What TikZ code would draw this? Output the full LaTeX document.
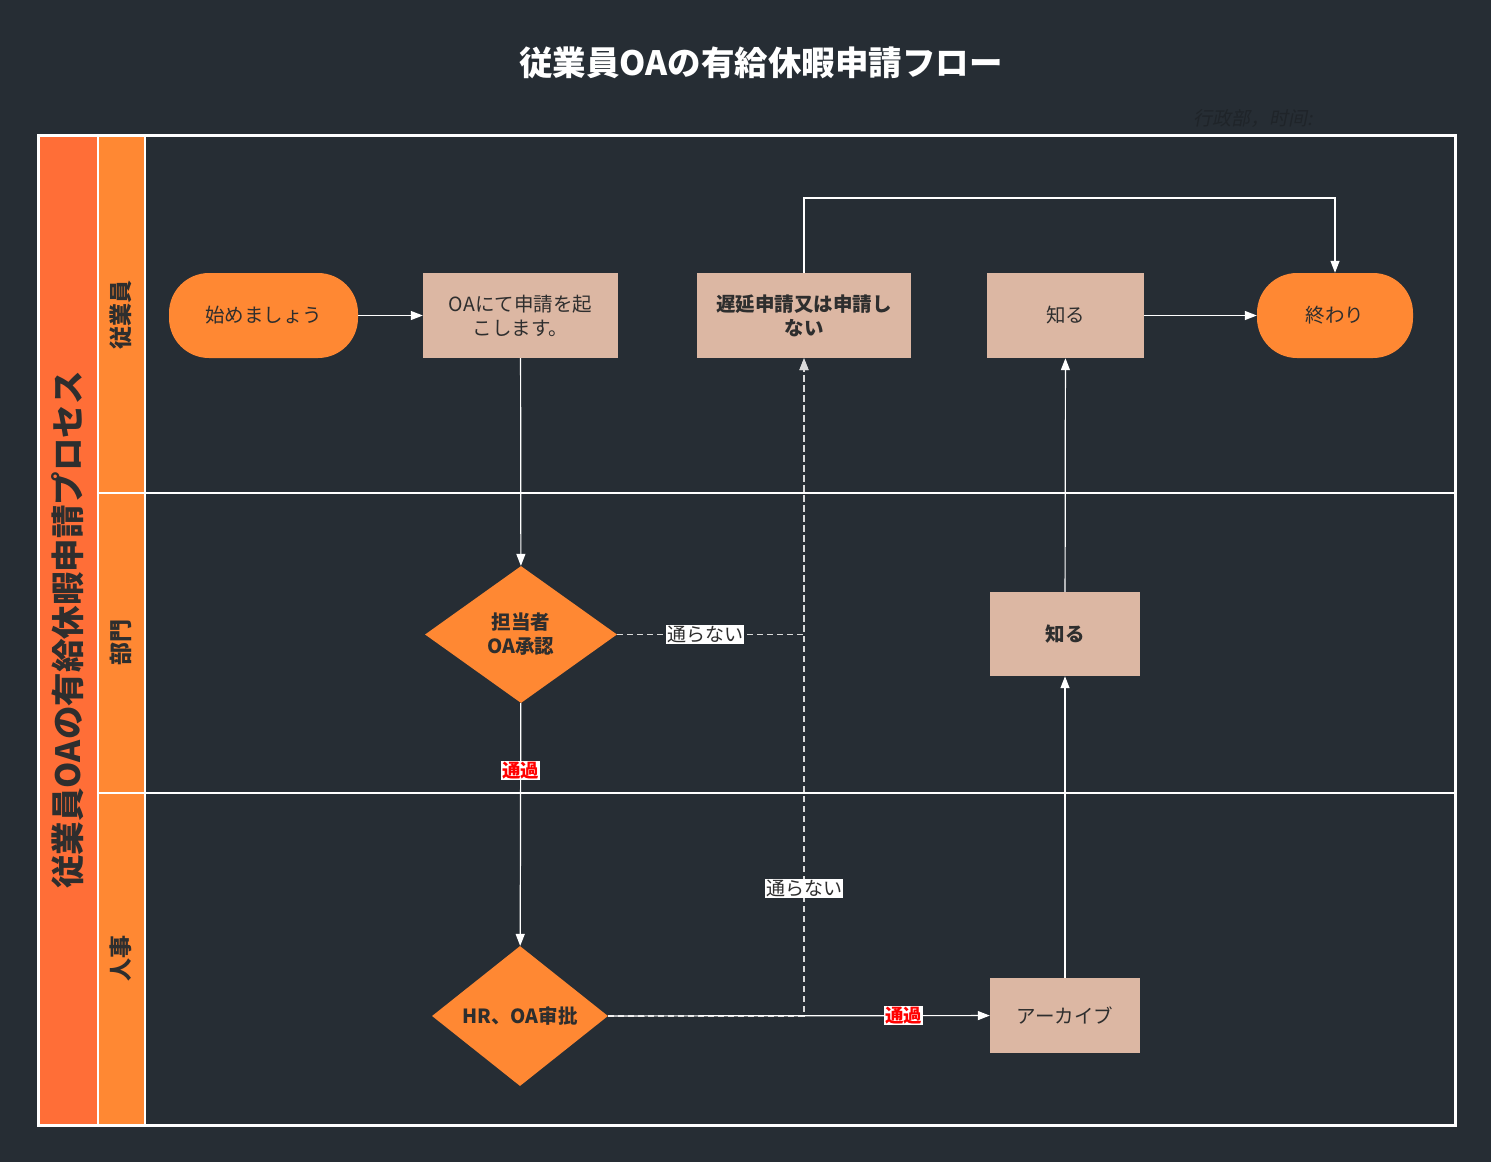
\documentclass[tikz,border=0pt]{standalone}
\usepackage{fontspec}
\setmainfont{Noto Sans CJK JP}
\newfontfamily\scfont[FakeSlant=0.2]{Noto Sans CJK SC}
\usetikzlibrary{shapes.geometric,arrows.meta}
\definecolor{bg}{HTML}{262D34}
\definecolor{orA}{HTML}{FF8833}
\definecolor{orB}{HTML}{FF6E37}
\definecolor{boxc}{HTML}{DCB7A3}
\definecolor{txt}{HTML}{2E2E2E}
\definecolor{faint}{HTML}{1F2429}
\tikzset{
  pill/.style={draw=none,fill=orA,rounded corners=40pt,minimum height=85pt,text=txt,font=\fontsize{19.5}{24}\selectfont,align=center},
  procbox/.style={draw=none,fill=boxc,text=txt,font=\fontsize{19.5}{24}\selectfont,align=center,inner sep=4pt},
  decis/.style={diamond,draw=none,fill=orA,text=txt,font=\bfseries\fontsize{19.5}{24}\selectfont,align=center,inner sep=0pt},
  arr/.style={draw=white,line width=1.2pt,-{Triangle[length=12pt,width=9pt]}},
  dline/.style={draw=white!85!black,line width=1.5pt,dash pattern=on 6pt off 4pt,-{Triangle[length=12pt,width=9pt]}},
  lblw/.style={fill=white,text=txt,font=\fontsize{19}{22}\selectfont,inner sep=1pt},
  lblr/.style={fill=white,text=red,font=\bfseries\fontsize{18.5}{22}\selectfont,inner sep=1pt},
  lanelbl/.style={rotate=90,text=txt,font=\bfseries\fontsize{23}{26}\selectfont},
}
\begin{document}
\begin{tikzpicture}[x=1pt,y=-1pt]
\fill[bg] (0,0) rectangle (1491,1162);
\useasboundingbox (0,0) rectangle (1491,1162);
% title
\node[text=white,font=\bfseries\fontsize{33.5}{38}\selectfont] (title) at (761,63) {従業員OAの有給休暇申請フロー};
\node[text=faint,font=\scfont\fontsize{19}{22}\selectfont,anchor=west] (note) at (1190,118) {行政部，时间:};
% pool frame
\fill[orB] (38,135) rectangle (97,1125);
\fill[orA] (99,135) rectangle (145,1125);
\draw[white,line width=3pt] (38,135) rectangle (1455,1125);
\draw[white,line width=2pt] (98,135) -- (98,1125);
\draw[white,line width=1.2pt] (145,135) -- (145,1125);
\draw[white,line width=1.2pt] (99,493) -- (1455,493);
\draw[white,line width=1.2pt] (99,793) -- (1455,793);
\node[rotate=90,text=txt,font=\bfseries\fontsize{33.5}{38}\selectfont] (pool) at (68,630) {従業員OAの有給休暇申請プロセス};
\node[lanelbl] (lane1) at (121,315) {従業員};
\node[lanelbl] (lane2) at (121,642) {部門};
\node[lanelbl] (lane3) at (121,958) {人事};
% nodes
\node[pill,minimum width=189pt] (start) at (263.5,315.5) {始めましょう};
\node[procbox,minimum width=195pt,minimum height=85pt] (apply) at (520.5,315.5) {OAにて申請を起\\こします。};
\node[procbox,minimum width=214pt,minimum height=85pt,font=\bfseries\fontsize{19.5}{24}\selectfont] (delay) at (804,315.5) {遅延申請又は申請し\\ない};
\node[procbox,minimum width=157pt,minimum height=85pt] (know1) at (1065.5,315.5) {知る};
\node[pill,minimum width=156pt] (end) at (1335,315.5) {終わり};
\node[decis,minimum width=192pt,minimum height=137pt] (dept) at (521,634.5) {担当者\\OA承認};
\node[procbox,minimum width=150pt,minimum height=84pt,font=\bfseries\fontsize{19.5}{24}\selectfont] (know2) at (1065,634) {知る};
\node[decis,minimum width=176pt,minimum height=140pt] (hr) at (520,1016) {HR、OA审批};
\node[procbox,minimum width=150pt,minimum height=75pt] (arch) at (1065,1015.5) {アーカイブ};
\coordinate (topy) at (0,198);
% edges
\draw[arr] (start) -- (apply);
\draw[arr] (apply) -- (dept);
\draw[arr] (dept) -- node[lblr,pos=0.276] {通過} (hr);
\draw[dline] (dept.east) -| node[lblw,pos=0.235] {通らない} (delay.south);
\draw[dline] (hr.east) -| node[lblw,pos=0.597] {通らない} (delay.south);
\draw[arr] (hr) -- node[lblr,pos=0.775] {通過} (arch);
\draw[arr] (arch) -- (know2);
\draw[arr] (know2) -- (know1);
\draw[arr] (know1) -- (end);
\draw[arr] (delay.north) -- (delay.north |- topy) -- (end.north |- topy) -- (end.north);
\end{tikzpicture}
\end{document}
